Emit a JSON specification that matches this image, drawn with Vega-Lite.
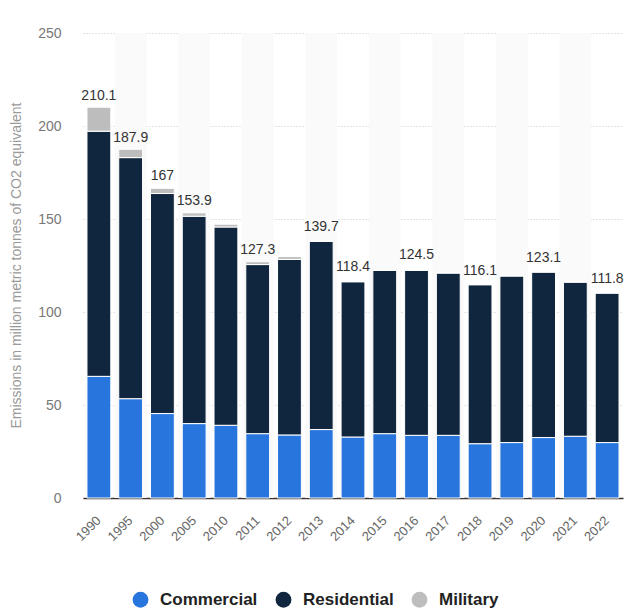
{
  "$schema": "https://vega.github.io/schema/vega-lite/v6.json",
  "width": 540,
  "height": 465,
  "autosize": "none",
  "padding": {"left": 83, "top": 33, "right": 2, "bottom": 112},
  "background": "#ffffff",
  "config": {
    "view": {"stroke": null},
    "font": "Liberation Sans"
  },
  "datasets": {
    "emissions": [
      {"year": "1990", "sector": "Commercial", "value": 65.4},
      {"year": "1990", "sector": "Residential", "value": 131.8},
      {"year": "1990", "sector": "Military", "value": 12.9},
      {"year": "1995", "sector": "Commercial", "value": 53.4},
      {"year": "1995", "sector": "Residential", "value": 129.6},
      {"year": "1995", "sector": "Military", "value": 4.5},
      {"year": "2000", "sector": "Commercial", "value": 45.4},
      {"year": "2000", "sector": "Residential", "value": 118.3},
      {"year": "2000", "sector": "Military", "value": 2.8},
      {"year": "2005", "sector": "Commercial", "value": 40.0},
      {"year": "2005", "sector": "Residential", "value": 111.5},
      {"year": "2005", "sector": "Military", "value": 1.8},
      {"year": "2010", "sector": "Commercial", "value": 39.1},
      {"year": "2010", "sector": "Residential", "value": 106.6},
      {"year": "2010", "sector": "Military", "value": 1.5},
      {"year": "2011", "sector": "Commercial", "value": 34.6},
      {"year": "2011", "sector": "Residential", "value": 90.9},
      {"year": "2011", "sector": "Military", "value": 1.5},
      {"year": "2012", "sector": "Commercial", "value": 33.9},
      {"year": "2012", "sector": "Residential", "value": 94.4},
      {"year": "2012", "sector": "Military", "value": 1.5},
      {"year": "2013", "sector": "Commercial", "value": 36.8},
      {"year": "2013", "sector": "Residential", "value": 101.2},
      {"year": "2013", "sector": "Military", "value": 0},
      {"year": "2014", "sector": "Commercial", "value": 32.8},
      {"year": "2014", "sector": "Residential", "value": 83.5},
      {"year": "2014", "sector": "Military", "value": 0},
      {"year": "2015", "sector": "Commercial", "value": 34.6},
      {"year": "2015", "sector": "Residential", "value": 87.8},
      {"year": "2015", "sector": "Military", "value": 0},
      {"year": "2016", "sector": "Commercial", "value": 33.7},
      {"year": "2016", "sector": "Residential", "value": 88.7},
      {"year": "2016", "sector": "Military", "value": 0},
      {"year": "2017", "sector": "Commercial", "value": 33.7},
      {"year": "2017", "sector": "Residential", "value": 87.3},
      {"year": "2017", "sector": "Military", "value": 0},
      {"year": "2018", "sector": "Commercial", "value": 29.2},
      {"year": "2018", "sector": "Residential", "value": 85.5},
      {"year": "2018", "sector": "Military", "value": 0},
      {"year": "2019", "sector": "Commercial", "value": 29.8},
      {"year": "2019", "sector": "Residential", "value": 89.6},
      {"year": "2019", "sector": "Military", "value": 0},
      {"year": "2020", "sector": "Commercial", "value": 32.5},
      {"year": "2020", "sector": "Residential", "value": 89.0},
      {"year": "2020", "sector": "Military", "value": 0},
      {"year": "2021", "sector": "Commercial", "value": 33.2},
      {"year": "2021", "sector": "Residential", "value": 82.9},
      {"year": "2021", "sector": "Military", "value": 0},
      {"year": "2022", "sector": "Commercial", "value": 29.8},
      {"year": "2022", "sector": "Residential", "value": 80.4},
      {"year": "2022", "sector": "Military", "value": 0}
    ],
    "labels": [
      {"year": "1990", "total": 210.1},
      {"year": "1995", "total": 187.9},
      {"year": "2000", "total": 167},
      {"year": "2005", "total": 153.9},
      {"year": "2011", "total": 127.3},
      {"year": "2013", "total": 139.7},
      {"year": "2014", "total": 118.4},
      {"year": "2016", "total": 124.5},
      {"year": "2018", "total": 116.1},
      {"year": "2020", "total": 123.1},
      {"year": "2022", "total": 111.8}
    ]
  },
  "layer": [
    {
      "data": {"name": "emissions"},
      "transform": [
        {"filter": "datum.sector === 'Commercial'"},
        {"window": [{"op": "row_number", "as": "rn"}], "sort": [{"field": "year"}]},
        {"filter": "datum.rn % 2 === 0"}
      ],
      "mark": {"type": "bar", "color": "#fafafa", "width": {"band": 1.3333}},
      "encoding": {
        "x": {"field": "year", "type": "nominal"}
      }
    },
    {
      "data": {"name": "emissions"},
      "transform": [
        {"calculate": "indexof(['Commercial','Residential','Military'], datum.sector)", "as": "ord"}
      ],
      "mark": {"type": "bar", "stroke": "#ffffff", "strokeWidth": 1},
      "encoding": {
        "x": {
          "field": "year",
          "type": "nominal",
          "scale": {"paddingInner": 0.25, "paddingOuter": 0.125},
          "axis": {
            "title": null,
            "labelAngle": -45,
            "labelAlign": "right",
            "labelBaseline": "middle",
            "labelFontSize": 13,
            "labelColor": "#666666",
            "labelPadding": 20,
            "ticks": false,
            "domain": true,
            "domainColor": "#3a3330",
            "domainWidth": 1.5,
            "grid": false
          }
        },
        "y": {
          "field": "value",
          "type": "quantitative",
          "aggregate": "sum",
          "stack": "zero",
          "scale": {"domain": [0, 250], "nice": false},
          "axis": {
            "title": "Emissions in million metric tonnes of CO2 equivalent",
            "titleFontSize": 14,
            "titleFontWeight": "normal",
            "titleColor": "#999999",
            "titleX": -60,
            "titleY": 232,
            "values": [0, 50, 100, 150, 200, 250],
            "labelFontSize": 14,
            "labelColor": "#777777",
            "labelPadding": 22,
            "ticks": false,
            "domain": false,
            "grid": true,
            "gridColor": "#c8c8c8",
            "gridDash": [1, 2],
            "gridWidth": 1
          }
        },
        "color": {
          "field": "sector",
          "type": "nominal",
          "sort": ["Commercial", "Residential", "Military"],
          "scale": {
            "domain": ["Commercial", "Residential", "Military"],
            "range": ["#2876dd", "#10263e", "#bdbdbd"]
          },
          "legend": {
            "title": null,
            "orient": "none",
            "direction": "horizontal",
            "legendX": 49,
            "legendY": 558,
            "symbolType": "circle",
            "symbolSize": 250,
            "symbolStrokeWidth": 0,
            "labelFontSize": 17,
            "labelFontWeight": "bold",
            "labelColor": "#222222",
            "labelOffset": 11,
            "columnPadding": 17
          }
        },
        "order": {"field": "ord", "type": "quantitative", "sort": "ascending"}
      }
    },
    {
      "data": {"name": "labels"},
      "mark": {"type": "text", "fontSize": 14, "color": "#333333", "baseline": "bottom", "dy": -4},
      "encoding": {
        "x": {"field": "year", "type": "nominal"},
        "y": {"field": "total", "type": "quantitative"},
        "text": {"field": "total", "type": "quantitative", "format": ".4~"}
      }
    }
  ]
}
